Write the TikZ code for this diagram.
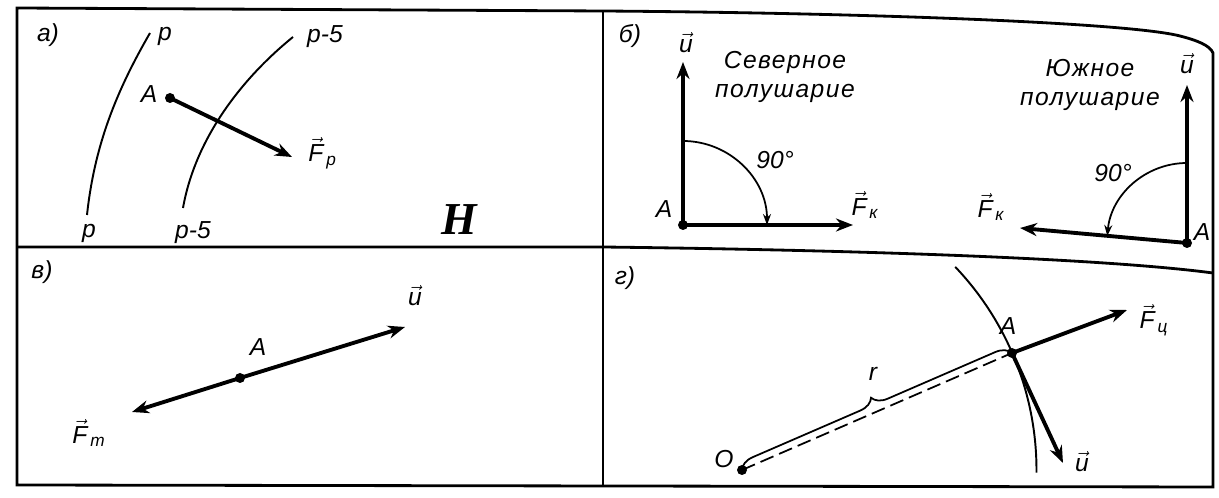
\documentclass[tikz,border=0pt]{standalone}
\usepackage{amsmath}
\usepackage{fontspec}
\setmainfont{Liberation Sans}
\newfontfamily\hfont{Liberation Serif}
\usepackage{tikz}
\usetikzlibrary{arrows.meta, positioning, decorations.pathreplacing}
\newcommand{\vectlbl}[2]{$\vec{\text{\itshape #1}}_{\,\text{\itshape #2}}$}
\newcommand{\vectu}[1]{$\vec{\text{\itshape #1}}$}
\tikzset{
  frameline/.style={line width=1.6pt},
  isoline/.style={line width=1.1pt},
  thinline/.style={line width=1pt},
  vecarrow/.style={line width=2.2pt, -{Stealth[length=3.4mm, width=2.6mm]}},
  anglearc/.style={line width=1pt, -{Stealth[length=2.2mm, width=1.6mm]}},
  lbl/.style={font=\fontsize{14}{16}\selectfont\itshape, inner sep=1pt},
  hemi/.style={font=\fontsize{14}{16.5}\selectfont\itshape\addfontfeature{LetterSpace=6}, align=center, inner sep=1pt}
}

\begin{document}
\begin{tikzpicture}
  \useasboundingbox (0,0) rectangle (24.38,9.96);
  % frame of the four panels
  \draw[frameline] (0.34,9.80) -- (12.06,9.74) .. controls (17.5,9.7) and (22.6,9.5) .. (23.6,9.24)
        .. controls (23.95,9.15) and (24.2,9.05) .. (24.26,8.9) -- (24.26,0.22) -- (0.34,0.26) -- cycle;
  \draw[frameline] (12.06,9.74) -- (12.06,0.24);
  \draw[frameline] (0.34,5.02) -- (12.06,5.02) .. controls (17,4.96) and (22,4.8) .. (24.26,4.5);

  % a) isobars
  \node[lbl] (labA) at (0.96,9.26) {а)};
  \coordinate (pBot) at (1.74,5.66);
  \coordinate (pTop) at (3.0,9.3);
  \coordinate (qBot) at (3.66,5.8);
  \coordinate (qTop) at (5.86,9.22);
  \draw[isoline] (pBot) .. controls (1.9,7.16) and (2.4,8.26) .. (pTop);
  \draw[isoline] (qBot) .. controls (3.9,7.16) and (4.8,8.36) .. (qTop);
  \node[lbl] (pTopLbl) at (3.3,9.24) {p};
  \node[lbl] (pBotLbl) at (1.78,5.3) {p};
  \node[lbl] (qTopLbl) at (6.5,9.22) {p-5};
  \node[lbl] (qBotLbl) at (3.86,5.3) {p-5};
  \coordinate (Aa) at (3.4,8.0);
  \coordinate (Fp) at (5.84,6.82);
  \draw[vecarrow] (Aa) -- (Fp);
  \fill (Aa) circle (0.1);
  \node[lbl] (AaLbl) at (2.98,8.08) {A};
  \node[lbl] (FpLbl) at (6.45,6.9) {\vectlbl{F}{p}};
  \node[font=\fontsize{26}{30}\selectfont\hfont\bfseries\itshape] (Hlbl) at (9.18,5.56) {H};

  % b) northern and southern hemisphere
  \node[lbl] (labB) at (12.6,9.24) {б)};
  \coordinate (An) at (13.66,5.46);
  \coordinate (un) at (13.66,8.72);
  \coordinate (Fn) at (17.06,5.46);
  \draw[vecarrow] (An) -- (un);
  \draw[vecarrow] (An) -- (Fn);
  \draw[anglearc] (An) ++(0,1.68) arc[start angle=90, end angle=0, radius=1.68];
  \fill (An) circle (0.1);
  \node[lbl] (AnLbl) at (13.28,5.78) {A};
  \node[lbl] (unLbl) at (13.72,9.1) {\vectu{u}};
  \node[lbl] (FnLbl) at (17.3,5.86) {\vectlbl{F}{к}};
  \node[lbl] (angN) at (15.5,6.76) {90°};
  \node[hemi] (north) at (15.7,8.42) {Северное\\полушарие};

  \coordinate (As) at (23.74,5.1);
  \coordinate (us) at (23.74,8.26);
  \coordinate (Fs) at (20.4,5.4);
  \draw[vecarrow] (As) -- (us);
  \draw[vecarrow] (As) -- (Fs);
  \draw[anglearc] (As) ++(0,1.6) arc[start angle=90, end angle=175, radius=1.6];
  \fill (As) circle (0.1);
  \node[lbl] (AsLbl) at (24.04,5.32) {A};
  \node[lbl] (usLbl) at (23.74,8.68) {\vectu{u}};
  \node[lbl] (FsLbl) at (19.82,5.82) {\vectlbl{F}{к}};
  \node[lbl] (angS) at (22.26,6.5) {90°};
  \node[hemi] (south) at (21.8,8.26) {Южное\\полушарие};

  % c) friction
  \node[lbl] (labC) at (0.84,4.52) {в)};
  \coordinate (Av) at (4.8,2.4);
  \coordinate (uv) at (8.1,3.42);
  \coordinate (Fv) at (2.64,1.72);
  \draw[vecarrow] (Av) -- (uv);
  \draw[vecarrow] (Av) -- (Fv);
  \fill (Av) circle (0.1);
  \node[lbl] (AvLbl) at (5.16,3.02) {A};
  \node[lbl] (uvLbl) at (8.3,4.04) {\vectu{u}};
  \node[lbl] (FvLbl) at (1.78,1.3) {\vectlbl{F}{т}};

  % d) centrifugal force
  \node[lbl] (labD) at (12.5,4.4) {г)};
  \coordinate (Og) at (14.84,0.56);
  \coordinate (Ag) at (20.24,2.9);
  \coordinate (Fc) at (22.54,3.76);
  \coordinate (ug) at (21.26,0.7);
  \draw[isoline] (Og) ++(43.6:5.89) arc[start angle=43.6, end angle=-0.5, radius=5.89];
  \draw[thinline, dash pattern=on 8pt off 3.5pt] (Og) -- (Ag);
  \draw[thinline, decorate, decoration={brace, amplitude=0.3cm}] (Og) -- (Ag);
  \draw[vecarrow] (Ag) -- (Fc);
  \draw[vecarrow] (Ag) -- (ug);
  \fill (Og) circle (0.1);
  \fill (Ag) circle (0.1);
  \node[lbl] (OgLbl) at (14.48,0.78) {O};
  \node[lbl] (AgLbl) at (20.16,3.44) {A};
  \node[lbl] (rLbl) at (17.46,2.48) {r};
  \node[lbl] (FcLbl) at (23.08,3.56) {\vectlbl{F}{ц}};
  \node[lbl] (ugLbl) at (21.64,0.72) {\vectu{u}};
\end{tikzpicture}
\end{document}
